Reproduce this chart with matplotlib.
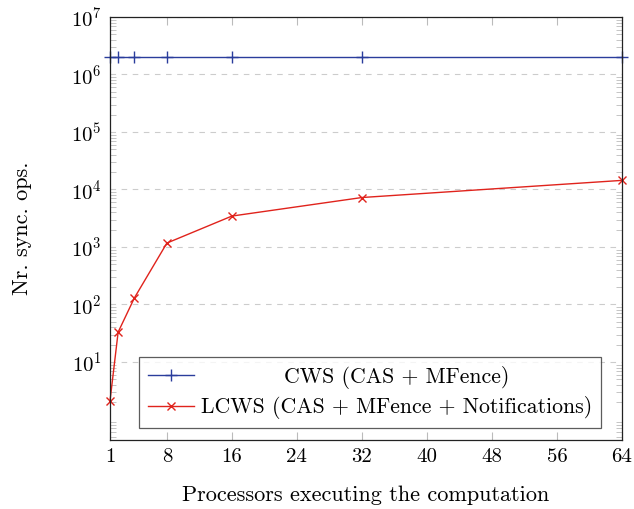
import matplotlib
matplotlib.use("Agg")
import matplotlib.pyplot as plt
from matplotlib.ticker import LogLocator, LogFormatterMathtext, NullFormatter

plt.rcParams["font.family"] = "cmr10"
plt.rcParams["mathtext.fontset"] = "cm"
plt.rcParams["axes.formatter.use_mathtext"] = True

processors = [1, 2, 4, 8, 16, 32, 64]
cws_ops = [2.05e6, 2.05e6, 2.05e6, 2.05e6, 2.05e6, 2.05e6, 2.05e6]
lcws_ops = [2.1, 33, 130, 1170, 3450, 7250, 14400]
x_ticks = [1, 8, 16, 24, 32, 40, 48, 56, 64]

fig = plt.figure(figsize=(6.34, 5.09), dpi=100)
ax = fig.add_axes([0.1735, 0.1356, 0.8075, 0.831])

ax.plot(processors, cws_ops, color="#2a3d9c", marker="+", markersize=8,
        linewidth=1.0, markeredgewidth=1.0, label="CWS (CAS + MFence)", clip_on=False)
ax.plot(processors, lcws_ops, color="#e0231c", marker="x", markersize=6,
        linewidth=1.0, markeredgewidth=1.0,
        label="LCWS (CAS + MFence + Notifications)", clip_on=False)

ax.set_yscale("log")
ax.set_xlim(1, 64)
ax.set_ylim(0.44, 1e7)
ax.set_xticks(x_ticks)
ax.set_xticklabels([str(t) for t in x_ticks])
ax.yaxis.set_major_locator(LogLocator(base=10, subs=(1.0,), numticks=20))
ax.yaxis.set_major_formatter(LogFormatterMathtext())
ax.yaxis.set_minor_locator(LogLocator(base=10, subs=range(2, 10), numticks=20))
ax.yaxis.set_minor_formatter(NullFormatter())
ax.set_yticks([10, 1e2, 1e3, 1e4, 1e5, 1e6, 1e7])

ax.tick_params(axis="both", which="both", direction="in", top=True, right=True,
               color="#bbbbbb", labelsize=15, pad=6)
ax.tick_params(axis="x", which="major", length=6)
ax.tick_params(axis="y", which="major", length=0)
ax.tick_params(axis="y", which="minor", length=4)
ax.grid(True, axis="y", which="major", linestyle=(0, (5, 5)), color="#cccccc", linewidth=0.8)

for s in ax.spines.values():
    s.set_color("#222222")
    s.set_linewidth(0.9)

ax.set_xlabel("Processors executing the computation", fontsize=16, labelpad=14)
ax.set_ylabel("Nr. sync. ops.", fontsize=16, labelpad=28)

leg = ax.legend(loc="center", bbox_to_anchor=(0.508, 0.112), fontsize=15.7,
                frameon=True, fancybox=False, edgecolor="#333333",
                handlelength=2.1, borderpad=0.4, labelspacing=0.35, handletextpad=0.33)
leg.get_frame().set_linewidth(0.9)

# center the shorter label in the legend column, like pgfplots does
fig.canvas.draw()
renderer = fig.canvas.get_renderer()
widths = [t.get_window_extent(renderer).width for t in leg.texts]
wmax = max(widths)
for t, w in zip(leg.texts, widths):
    t.set_position(((wmax - w) / 2, 0))

fig.savefig("out.png", dpi=100)
